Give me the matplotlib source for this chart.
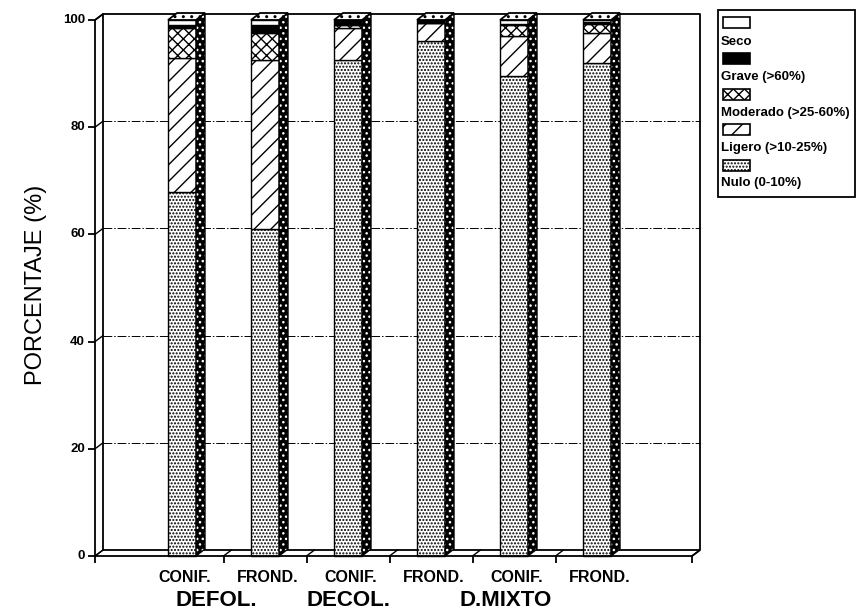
import matplotlib
matplotlib.use("Agg")
import matplotlib.pyplot as plt
from matplotlib.patches import Polygon, Rectangle
import numpy as np

plt.rcParams["font.family"] = ["Liberation Sans", "DejaVu Sans"]
plt.rcParams["hatch.linewidth"] = 1.0

# data (% of trees per damage class)
groups = ["DEFOL.", "DECOL.", "D.MIXTO"]
species = ["CONIF.", "FROND.", "CONIF.", "FROND.", "CONIF.", "FROND."]
levels = ["Nulo (0-10%)", "Ligero (>10-25%)", "Moderado (>25-60%)",
          "Grave (>60%)", "Seco"]
nulo = [68.0, 61.0, 92.5, 96.0, 89.5, 92.0]
ligero = [25.0, 31.5, 6.0, 3.5, 7.5, 5.5]
moderado = [5.5, 5.0, 0.5, 0.0, 2.0, 1.8]
grave = [0.5, 1.5, 1.0, 0.5, 0.2, 0.3]
seco = [1.0, 1.0, 0.0, 0.0, 0.8, 0.4]
yticks = [0, 20, 40, 60, 80, 100]

series = [nulo, ligero, moderado, grave, seco]
hatches = [".....", "//", "xxx", "", ""]
faces = ["white", "white", "white", "black", "white"]

W, H = 858, 614
PX_X, PX_Y = 83.0, 5.36      # pixels per category / per percent
X0, Y0 = 182.0, 556.0        # pixel of category 0 / 0 %

fig = plt.figure(figsize=(W / 100, H / 100), dpi=100)
ax = fig.add_axes([0, 0, 1, 1])
ax.set_xlim(-X0 / PX_X, (W - X0) / PX_X)
ax.set_ylim(-(H - Y0) / PX_Y, Y0 / PX_Y)
ax.axis("off")

# 3d offsets
bdx, bdy = 8 / PX_X, 6 / PX_Y     # box depth
sdx, sdy = 9 / PX_X, 7 / PX_Y     # bar depth
bw = 28 / PX_X
left, right = -1.048, 6.145
xb_left, xb_right = left + bdx, right + bdx
lk = dict(color="black", lw=1.3, solid_capstyle="butt")

# back wall and floor
ax.plot([xb_left, xb_left, xb_right, xb_right],
        [bdy, 100 + bdy, 100 + bdy, bdy], zorder=1, **lk)
ax.plot([xb_left, xb_right], [bdy, bdy], zorder=1, **lk)
for t in yticks[1:-1]:
    ax.plot([xb_left, xb_right], [t + bdy, t + bdy], color="black", lw=0.7,
            dashes=(9, 2, 1.5, 2), zorder=1)

# front axis
ax.plot([left, left], [0, 100], zorder=4, **lk)
ax.plot([left, right], [0, 0], zorder=4, **lk)
ax.plot([left, xb_left], [100, 100 + bdy], zorder=4, **lk)
ax.plot([right, xb_right], [0, bdy], zorder=4, **lk)
for t in yticks:
    ax.plot([left - 7 / PX_X, left], [t, t], zorder=4, **lk)
    ax.plot([left, xb_left], [t, t + bdy], zorder=4, color="black", lw=1.0)
    ax.text(left - 10 / PX_X, t, str(t), ha="right", va="center",
            fontsize=9.5, fontweight="bold")
xt = [left] + [i + 0.5 for i in range(len(species) - 1)] + [right]
for t in xt:
    ax.plot([t, t], [0, -7 / PX_Y], zorder=4, **lk)
    ax.plot([t, t + bdx], [0, bdy], zorder=4, color="black", lw=1.0)

# bars
x = np.arange(len(species))
bottom = np.zeros(len(species))
for vals, h, fc in zip(series, hatches, faces):
    ax.bar(x, vals, width=bw, bottom=bottom, color=fc, edgecolor="black",
           hatch=h, linewidth=1.0, zorder=3)
    bottom += np.array(vals)

for i, top in zip(x, bottom):
    xr = i + bw / 2
    xl = i - bw / 2
    side = [(xr, 0), (xr + sdx, sdy), (xr + sdx, top + sdy), (xr, top)]
    ax.add_patch(Polygon(side, closed=True, facecolor="black",
                         edgecolor="white", hatch="...", lw=0, zorder=3))
    ax.add_patch(Polygon(side, closed=True, fill=False, edgecolor="black",
                         lw=1.0, zorder=3))
    lid = [(xl, top), (xl + sdx, top + sdy), (xr + sdx, top + sdy), (xr, top)]
    ax.add_patch(Polygon(lid, closed=True, facecolor="white",
                         edgecolor="black", hatch="..", lw=1.3, zorder=3))

# labels
for i, s in enumerate(species):
    ax.text(i + 0.03, -4.1, s, ha="center", va="center", fontsize=11.5,
            fontweight="bold")
for gx, g in zip([0.41, 2.0, 3.9], groups):
    ax.text(gx, -8.3, g, ha="center", va="center", fontsize=16,
            fontweight="bold")
ax.text(-1.76, 50.6, "PORCENTAJE (%)", rotation=90, ha="center",
        va="center", fontsize=17)

# legend (swatch above text)
def fx(px):
    return px / W


def fy(py):
    return 1 - py / H


fig.add_artist(Rectangle((fx(718), fy(197)), fx(855) - fx(718),
                         fy(10) - fy(197), transform=fig.transFigure,
                         fill=False, edgecolor="black", lw=1.3))
for k, (lab, h, fc) in enumerate(zip(levels[::-1], hatches[::-1],
                                     faces[::-1])):
    top = 17 + 35.8 * k
    fig.add_artist(Rectangle((fx(723), fy(top + 11)), fx(750) - fx(723),
                             fy(top) - fy(top + 11), transform=fig.transFigure,
                             facecolor=fc, edgecolor="black", hatch=h,
                             lw=1.2))
    fig.text(fx(721), fy(42 + 35.3 * k), lab, ha="left", va="center",
             fontsize=9.5, fontweight="bold")

fig.savefig("out.png", dpi=100)
